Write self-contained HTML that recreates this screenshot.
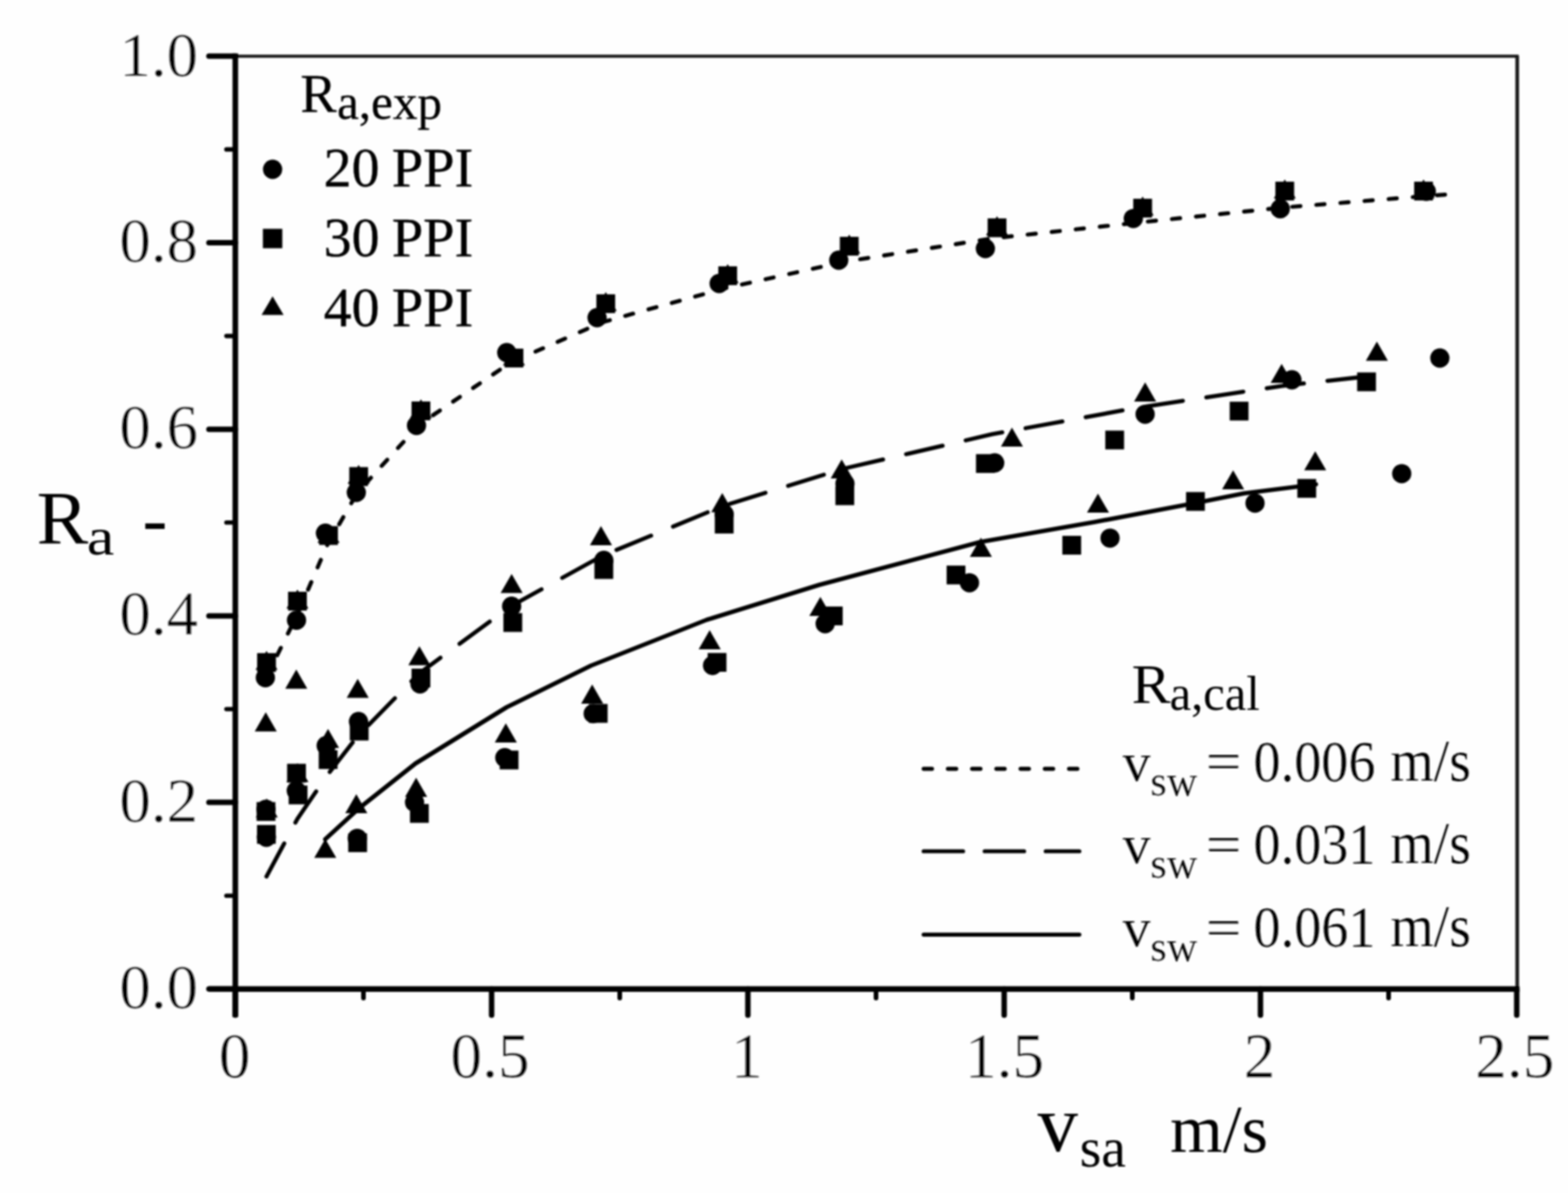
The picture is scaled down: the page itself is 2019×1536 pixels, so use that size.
<!DOCTYPE html>
<html lang="en">
<head>
<meta charset="utf-8">
<title>Ra versus vsa</title>
<style>
html,body{margin:0;padding:0;background:#fefefe;}
body{width:2019px;height:1536px;overflow:hidden;}
svg{display:block;}
text{font-family:"Liberation Serif","DejaVu Serif",serif;fill:#000;}
</style>
</head>
<body>
<svg width="2019" height="1536" viewBox="0 0 2019 1536">
<rect x="0" y="0" width="2019" height="1536" fill="#fefefe"/>
<defs><filter id="soft" x="-2%" y="-2%" width="104%" height="104%"><feGaussianBlur stdDeviation="1.2"/></filter></defs>
<g id="chart" filter="url(#soft)">
<line x1="303.0" y1="68.8" x2="303.0" y2="1309.5" stroke="#000" stroke-width="7.2"/>
<line x1="269" y1="1273.3" x2="1956.5" y2="1273.3" stroke="#000" stroke-width="7.2"/>
<line x1="303.0" y1="72.3" x2="1955.5" y2="72.3" stroke="#0a0a0a" stroke-width="3.8"/>
<line x1="1953.6" y1="72.3" x2="1953.6" y2="1273.3" stroke="#141414" stroke-width="4.6"/>
<line x1="269" y1="1273.3" x2="303.0" y2="1273.3" stroke="#000" stroke-width="7" stroke-linecap="round"/>
<line x1="269" y1="1033.1" x2="303.0" y2="1033.1" stroke="#000" stroke-width="7" stroke-linecap="round"/>
<line x1="269" y1="792.9" x2="303.0" y2="792.9" stroke="#000" stroke-width="7" stroke-linecap="round"/>
<line x1="269" y1="552.7" x2="303.0" y2="552.7" stroke="#000" stroke-width="7" stroke-linecap="round"/>
<line x1="269" y1="312.5" x2="303.0" y2="312.5" stroke="#000" stroke-width="7" stroke-linecap="round"/>
<line x1="269" y1="72.3" x2="303.0" y2="72.3" stroke="#000" stroke-width="7" stroke-linecap="round"/>
<line x1="291.5" y1="1153.2" x2="303.0" y2="1153.2" stroke="#000" stroke-width="5.6" stroke-linecap="round"/>
<line x1="291.5" y1="913.0" x2="303.0" y2="913.0" stroke="#000" stroke-width="5.6" stroke-linecap="round"/>
<line x1="291.5" y1="672.8" x2="303.0" y2="672.8" stroke="#000" stroke-width="5.6" stroke-linecap="round"/>
<line x1="291.5" y1="432.6" x2="303.0" y2="432.6" stroke="#000" stroke-width="5.6" stroke-linecap="round"/>
<line x1="291.5" y1="192.4" x2="303.0" y2="192.4" stroke="#000" stroke-width="5.6" stroke-linecap="round"/>
<line x1="303.0" y1="1273.3" x2="303.0" y2="1307" stroke="#000" stroke-width="7" stroke-linecap="round"/>
<line x1="633.0" y1="1273.3" x2="633.0" y2="1307" stroke="#000" stroke-width="7" stroke-linecap="round"/>
<line x1="963.0" y1="1273.3" x2="963.0" y2="1307" stroke="#000" stroke-width="7" stroke-linecap="round"/>
<line x1="1293.0" y1="1273.3" x2="1293.0" y2="1307" stroke="#000" stroke-width="7" stroke-linecap="round"/>
<line x1="1623.0" y1="1273.3" x2="1623.0" y2="1307" stroke="#000" stroke-width="7" stroke-linecap="round"/>
<line x1="1953.0" y1="1273.3" x2="1953.0" y2="1307" stroke="#000" stroke-width="7" stroke-linecap="round"/>
<line x1="468.0" y1="1273.3" x2="468.0" y2="1285" stroke="#000" stroke-width="6" stroke-linecap="round"/>
<line x1="798.0" y1="1273.3" x2="798.0" y2="1285" stroke="#000" stroke-width="6" stroke-linecap="round"/>
<line x1="1128.0" y1="1273.3" x2="1128.0" y2="1285" stroke="#000" stroke-width="6" stroke-linecap="round"/>
<line x1="1458.0" y1="1273.3" x2="1458.0" y2="1285" stroke="#000" stroke-width="6" stroke-linecap="round"/>
<line x1="1788.0" y1="1273.3" x2="1788.0" y2="1285" stroke="#000" stroke-width="6" stroke-linecap="round"/>
<polyline points="343.0,871.7 383.0,791.0 421.0,702.5 460.0,634.5 540.0,546.5 657.0,467.0 775.0,415.0 932.0,371.5 1087.0,337.0 1277.0,307.0 1465.0,286.6 1651.0,267.3 1835.0,252.5 1864.0,250.3" fill="none" stroke="#000" stroke-width="5.2" stroke-linecap="round" stroke-dasharray="10.6 20.54" stroke-dashoffset="-0.2"/>
<polyline points="342.0,1130.5 383.0,1054.2 421.0,998.6 460.0,948.4 540.0,866.8 657.0,781.0 775.0,715.8 932.0,651.0 1087.0,603.2 1277.0,559.2 1465.0,524.9 1651.0,496.8 1759.0,484.8" fill="none" stroke="#000" stroke-width="5.3" stroke-linecap="round" stroke-linejoin="round" stroke-dasharray="48.2 30.51" stroke-dashoffset="-2.4"/>
<polyline points="418.8,1080.5 462.5,1040.5 535.0,983.0 652.5,910.5 761.0,857.0 910.0,798.0 1055.0,753.0 1262.5,697.8 1410.0,672.0 1540.0,647.5 1601.5,635.2 1694.5,623.5" fill="none" stroke="#000" stroke-width="5.6" stroke-linejoin="round" stroke-linecap="round"/>
<circle cx="342.5" cy="1042" r="12.4"/>
<circle cx="341.7" cy="872.5" r="12.4"/>
<circle cx="381.8" cy="798.5" r="12.4"/>
<circle cx="419" cy="686.5" r="12.4"/>
<circle cx="458.8" cy="634" r="12.4"/>
<circle cx="536.3" cy="547.8" r="12.4"/>
<circle cx="652.5" cy="454" r="12.4"/>
<circle cx="768.8" cy="409" r="12.4"/>
<circle cx="926" cy="365" r="12.4"/>
<circle cx="1080" cy="335" r="12.4"/>
<circle cx="1268.8" cy="320" r="12.4"/>
<circle cx="1459.3" cy="281.3" r="12.4"/>
<circle cx="1648.5" cy="268.8" r="12.4"/>
<circle cx="1836.5" cy="246.3" r="12.4"/>
<circle cx="343" cy="1078" r="12.4"/>
<circle cx="381.5" cy="1018" r="12.4"/>
<circle cx="420" cy="960" r="12.4"/>
<circle cx="461.6" cy="929" r="12.4"/>
<circle cx="540.8" cy="880.5" r="12.4"/>
<circle cx="658.8" cy="780.5" r="12.4"/>
<circle cx="777.5" cy="721.5" r="12.4"/>
<circle cx="932.5" cy="662" r="12.4"/>
<circle cx="1088" cy="622.8" r="12.4"/>
<circle cx="1280.8" cy="596" r="12.4"/>
<circle cx="1474.5" cy="533.3" r="12.4"/>
<circle cx="1663.5" cy="489" r="12.4"/>
<circle cx="1854" cy="461" r="12.4"/>
<circle cx="460" cy="1079.3" r="12.4"/>
<circle cx="533.8" cy="1033" r="12.4"/>
<circle cx="650" cy="975.5" r="12.4"/>
<circle cx="763.8" cy="918.8" r="12.4"/>
<circle cx="917.5" cy="856.8" r="12.4"/>
<circle cx="1062.5" cy="803" r="12.4"/>
<circle cx="1248.3" cy="750.3" r="12.4"/>
<circle cx="1429.3" cy="692.8" r="12.4"/>
<circle cx="1616" cy="647.8" r="12.4"/>
<circle cx="1804.9" cy="609.8" r="12.4"/>
<rect x="410.9" y="677.4" width="24.2" height="24.2"/>
<rect x="331.1" y="840.9" width="24.2" height="24.2"/>
<rect x="370.9" y="761.9" width="24.2" height="24.2"/>
<rect x="449.7" y="601.4" width="24.2" height="24.2"/>
<rect x="529.9" y="516.9" width="24.2" height="24.2"/>
<rect x="649.7" y="448.9" width="24.2" height="24.2"/>
<rect x="767.9" y="378.9" width="24.2" height="24.2"/>
<rect x="924.9" y="342.9" width="24.2" height="24.2"/>
<rect x="1081.4" y="304.9" width="24.2" height="24.2"/>
<rect x="1271.7" y="281.2" width="24.2" height="24.2"/>
<rect x="1459.2" y="255.9" width="24.2" height="24.2"/>
<rect x="1642.2" y="233.9" width="24.2" height="24.2"/>
<rect x="1820.9" y="233.9" width="24.2" height="24.2"/>
<rect x="330.4" y="1032.7" width="24.2" height="24.2"/>
<rect x="369.7" y="983.4" width="24.2" height="24.2"/>
<rect x="371.7" y="1011.4" width="24.2" height="24.2"/>
<rect x="410.4" y="965.9" width="24.2" height="24.2"/>
<rect x="450.4" y="929.2" width="24.2" height="24.2"/>
<rect x="529.9" y="860.9" width="24.2" height="24.2"/>
<rect x="648.2" y="789.4" width="24.2" height="24.2"/>
<rect x="765.4" y="721.2" width="24.2" height="24.2"/>
<rect x="920.4" y="662.7" width="24.2" height="24.2"/>
<rect x="1075.7" y="626.2" width="24.2" height="24.2"/>
<rect x="1256.7" y="584.7" width="24.2" height="24.2"/>
<rect x="1423.2" y="554.4" width="24.2" height="24.2"/>
<rect x="1583.4" y="517.2" width="24.2" height="24.2"/>
<rect x="1747.5" y="479.5" width="24.2" height="24.2"/>
<rect x="330.9" y="1062.2" width="24.2" height="24.2"/>
<rect x="448.4" y="1072.9" width="24.2" height="24.2"/>
<rect x="527.9" y="1035.2" width="24.2" height="24.2"/>
<rect x="643.4" y="966.4" width="24.2" height="24.2"/>
<rect x="758.2" y="906.4" width="24.2" height="24.2"/>
<rect x="911.2" y="840.7" width="24.2" height="24.2"/>
<rect x="1060.9" y="780.9" width="24.2" height="24.2"/>
<rect x="1218.9" y="728.2" width="24.2" height="24.2"/>
<rect x="1367.9" y="689.9" width="24.2" height="24.2"/>
<rect x="1527.2" y="633.5" width="24.2" height="24.2"/>
<rect x="1670.5" y="616.7" width="24.2" height="24.2"/>
<polygon points="343.5,1028.0 329.3,1052.6 357.7,1052.6"/>
<polygon points="383.0,982.5 368.8,1007.1 397.2,1007.1"/>
<polygon points="381.5,862.1 367.3,886.7 395.7,886.7"/>
<polygon points="460.6,874.0 446.4,898.6 474.8,898.6"/>
<polygon points="342.2,917.1 328.0,941.7 356.4,941.7"/>
<polygon points="422.4,938.4 408.2,963.0 436.6,963.0"/>
<polygon points="540.0,832.0 525.8,856.6 554.2,856.6"/>
<polygon points="658.8,739.0 644.6,763.6 673.0,763.6"/>
<polygon points="773.8,677.3 759.6,701.9 788.0,701.9"/>
<polygon points="930.0,634.8 915.8,659.4 944.2,659.4"/>
<polygon points="1083.8,591.5 1069.6,616.1 1098.0,616.1"/>
<polygon points="1303.0,550.5 1288.8,575.1 1317.2,575.1"/>
<polygon points="1474.5,492.3 1460.3,516.9 1488.7,516.9"/>
<polygon points="1650.3,468.5 1636.1,493.1 1664.5,493.1"/>
<polygon points="1772.9,439.8 1758.7,464.4 1787.1,464.4"/>
<polygon points="418.8,1080.0 404.6,1104.6 433.0,1104.6"/>
<polygon points="458.8,1022.5 444.6,1047.1 473.0,1047.1"/>
<polygon points="535.8,1001.3 521.6,1025.9 550.0,1025.9"/>
<polygon points="651.3,931.3 637.1,955.9 665.5,955.9"/>
<polygon points="762.5,881.3 748.3,905.9 776.7,905.9"/>
<polygon points="913.8,811.3 899.6,835.9 928.0,835.9"/>
<polygon points="1056.3,768.5 1042.1,793.1 1070.5,793.1"/>
<polygon points="1263.0,692.3 1248.8,716.9 1277.2,716.9"/>
<polygon points="1413.8,635.5 1399.6,660.1 1428.0,660.1"/>
<polygon points="1587.8,605.5 1573.6,630.1 1602.0,630.1"/>
<polygon points="1693.5,581.0 1679.3,605.6 1707.7,605.6"/>
<polygon points="423.0,674.5 408.8,699.1 437.2,699.1"/>
<polygon points="343.2,838.0 329.0,862.6 357.4,862.6"/>
<polygon points="383.0,759.0 368.8,783.6 397.2,783.6"/>
<polygon points="461.8,598.5 447.6,623.1 476.0,623.1"/>
<polygon points="542.0,514.0 527.8,538.6 556.2,538.6"/>
<polygon points="661.8,446.0 647.6,470.6 676.0,470.6"/>
<polygon points="780.0,376.0 765.8,400.6 794.2,400.6"/>
<polygon points="937.0,340.0 922.8,364.6 951.2,364.6"/>
<polygon points="1093.5,302.0 1079.3,326.6 1107.7,326.6"/>
<polygon points="1283.8,278.3 1269.6,302.9 1298.0,302.9"/>
<polygon points="1471.3,253.0 1457.1,277.6 1485.5,277.6"/>
<polygon points="1654.3,231.0 1640.1,255.6 1668.5,255.6"/>
<polygon points="1833.0,231.0 1818.8,255.6 1847.2,255.6"/>
<circle cx="351" cy="218" r="12.4"/>
<rect x="338.5" y="294.6" width="25" height="25"/>
<polygon points="351,381.5 336.8,405.5 365.2,405.5"/>
<line x1="1189.3" y1="989.8" x2="1389.5" y2="989.8" stroke="#000" stroke-width="5.2" stroke-linecap="round" stroke-dasharray="10.8 20.4"/>
<line x1="1189.3" y1="1096" x2="1389.8" y2="1096" stroke="#000" stroke-width="5.2" stroke-linecap="round" stroke-dasharray="50.8 27.8"/>
<line x1="1189.3" y1="1203.3" x2="1389.8" y2="1203.3" stroke="#000" stroke-width="5.2" stroke-linecap="round"/>
<text x="255" y="97.6" font-size="81" text-anchor="end" style="stroke:#fefefe;stroke-width:0.45px">1.0</text>
<text x="255" y="336.7" font-size="81" text-anchor="end" style="stroke:#fefefe;stroke-width:0.45px">0.8</text>
<text x="255" y="577.3" font-size="81" text-anchor="end" style="stroke:#fefefe;stroke-width:0.45px">0.6</text>
<text x="255" y="817.0" font-size="81" text-anchor="end" style="stroke:#fefefe;stroke-width:0.45px">0.4</text>
<text x="255" y="1057.6" font-size="81" text-anchor="end" style="stroke:#fefefe;stroke-width:0.45px">0.2</text>
<text x="255" y="1298.2" font-size="81" text-anchor="end" style="stroke:#fefefe;stroke-width:0.45px">0.0</text>
<text x="302" y="1387" font-size="81.5" text-anchor="middle" style="stroke:#fefefe;stroke-width:0.45px">0</text>
<text x="631" y="1387" font-size="81.5" text-anchor="middle" style="stroke:#fefefe;stroke-width:0.45px">0.5</text>
<text x="961.5" y="1387" font-size="81.5" text-anchor="middle" style="stroke:#fefefe;stroke-width:0.45px">1</text>
<text x="1293.5" y="1387" font-size="81.5" text-anchor="middle" style="stroke:#fefefe;stroke-width:0.45px">1.5</text>
<text x="1621.8" y="1387" font-size="81.5" text-anchor="middle" style="stroke:#fefefe;stroke-width:0.45px">2</text>
<text x="1950.5" y="1387" font-size="81.5" text-anchor="middle" style="stroke:#fefefe;stroke-width:0.45px">2.5</text>
<text transform="translate(47.2 699.8) scale(1.02 1)" font-size="97.6" text-anchor="start" style="stroke:none">R</text>
<text transform="translate(111.8 713.5) scale(1.165 1)" font-size="68.5" text-anchor="start" style="stroke:none">a</text>
<text x="183.6" y="700.3" font-size="96" text-anchor="start" style="stroke:none">-</text>
<text x="1335.9" y="1482.3" font-size="104" text-anchor="start" style="stroke:none">v</text>
<text x="1390.2" y="1502" font-size="71.5" text-anchor="start" style="stroke:none">sa</text>
<text x="1506.8" y="1483.3" font-size="87" text-anchor="start" style="stroke:none">m/s</text>
<text x="386.8" y="144" font-size="70" text-anchor="start" style="stroke:#000;stroke-width:0.3px">R</text>
<text transform="translate(434 152.5) scale(1.012 1)" font-size="62.5" text-anchor="start" style="stroke:#000;stroke-width:0.3px">a,exp</text>
<text x="416.8" y="240" font-size="72" text-anchor="start" style="stroke:#000;stroke-width:0.4px">20</text>
<text transform="translate(504.4 240) scale(1.011 1)" font-size="72" text-anchor="start" style="stroke:#000;stroke-width:0.4px">PPI</text>
<text x="416.8" y="330" font-size="72" text-anchor="start" style="stroke:#000;stroke-width:0.4px">30</text>
<text transform="translate(504.4 330) scale(1.011 1)" font-size="72" text-anchor="start" style="stroke:#000;stroke-width:0.4px">PPI</text>
<text x="416.8" y="420" font-size="72" text-anchor="start" style="stroke:#000;stroke-width:0.4px">40</text>
<text transform="translate(504.4 420) scale(1.011 1)" font-size="72" text-anchor="start" style="stroke:#000;stroke-width:0.4px">PPI</text>
<text transform="translate(1457.2 905) scale(1.05 1)" font-size="71.3" text-anchor="start" style="stroke:none">R</text>
<text x="1506" y="914" font-size="62.5" text-anchor="start" style="stroke:none">a,cal</text>
<text transform="translate(1445.5 1004.8) scale(1.036 1)" font-size="69.5" text-anchor="start" style="stroke:#fefefe;stroke-width:0.15px">v</text>
<text transform="translate(1481.3 1024.0) scale(1.0001 1)" font-size="54.2" text-anchor="start" style="stroke:#fefefe;stroke-width:0.15px">sw</text>
<text transform="translate(1552.4 1003.4) scale(1.22 1)" font-size="67" text-anchor="start" style="stroke:#fefefe;stroke-width:0.15px">=</text>
<text transform="translate(1614.1 1005.6) scale(0.937 1)" font-size="74.5" text-anchor="start" style="stroke:#fefefe;stroke-width:0.15px">0.006</text>
<text transform="translate(1790.2 1005.2) scale(0.952 1)" font-size="75.5" text-anchor="start" style="stroke:#fefefe;stroke-width:0.15px">m/s</text>
<text transform="translate(1445.5 1110.9) scale(1.036 1)" font-size="69.5" text-anchor="start" style="stroke:#fefefe;stroke-width:0.15px">v</text>
<text transform="translate(1481.3 1130.1) scale(1.0001 1)" font-size="54.2" text-anchor="start" style="stroke:#fefefe;stroke-width:0.15px">sw</text>
<text transform="translate(1552.4 1109.5) scale(1.22 1)" font-size="67" text-anchor="start" style="stroke:#fefefe;stroke-width:0.15px">=</text>
<text transform="translate(1614.1 1111.7) scale(0.937 1)" font-size="74.5" text-anchor="start" style="stroke:#fefefe;stroke-width:0.15px">0.031</text>
<text transform="translate(1790.2 1111.3) scale(0.952 1)" font-size="75.5" text-anchor="start" style="stroke:#fefefe;stroke-width:0.15px">m/s</text>
<text transform="translate(1445.5 1217.9) scale(1.036 1)" font-size="69.5" text-anchor="start" style="stroke:#fefefe;stroke-width:0.15px">v</text>
<text transform="translate(1481.3 1237.1) scale(1.0001 1)" font-size="54.2" text-anchor="start" style="stroke:#fefefe;stroke-width:0.15px">sw</text>
<text transform="translate(1552.4 1216.5) scale(1.22 1)" font-size="67" text-anchor="start" style="stroke:#fefefe;stroke-width:0.15px">=</text>
<text transform="translate(1614.1 1218.7) scale(0.937 1)" font-size="74.5" text-anchor="start" style="stroke:#fefefe;stroke-width:0.15px">0.061</text>
<text transform="translate(1790.2 1218.3) scale(0.952 1)" font-size="75.5" text-anchor="start" style="stroke:#fefefe;stroke-width:0.15px">m/s</text>
</g>
</svg>
</body>
</html>
